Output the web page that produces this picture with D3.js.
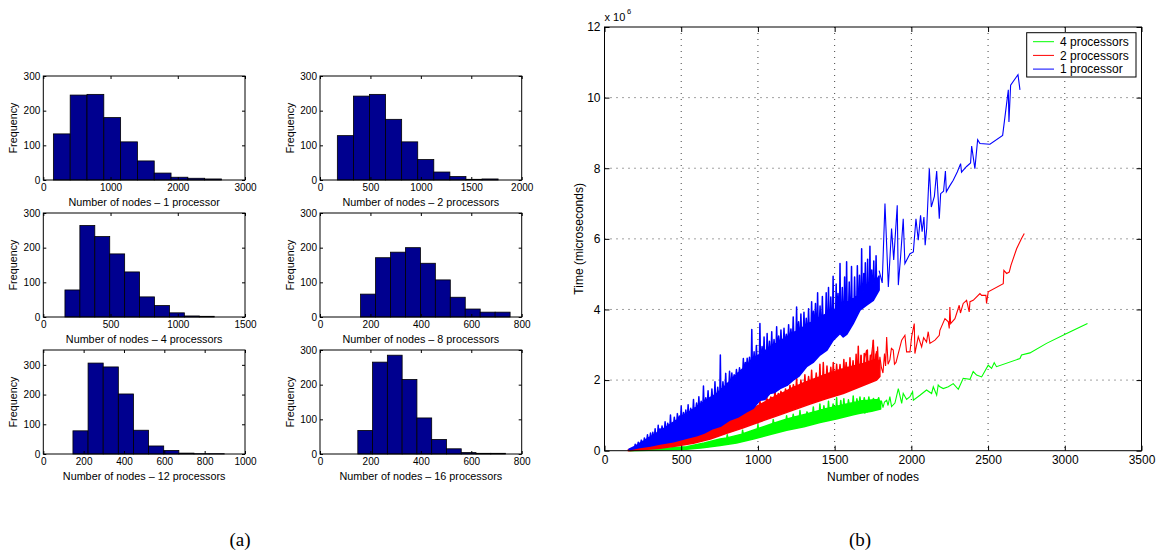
<!DOCTYPE html>
<html>
<head>
<meta charset="utf-8">
<script src="https://cdn.jsdelivr.net/npm/d3@7"></script>
<style>
body { margin: 0; background: #fff; }
svg { font-family: "Liberation Sans", Arial, sans-serif; }
</style>
</head>
<body>
<svg width="1159" height="554"></svg>
<script>
// ---- histogram data (panel a) ----
var histLabels = ["Number of nodes \u2013 1 processor", "Number of nodes \u2013 2 processors",
                  "Number of nodes \u2013 4 processors", "Number of nodes \u2013 8 processors",
                  "Number of nodes \u2013 12 processors", "Number of nodes \u2013 16 processors"];
var histMin = [150, 172, 161, 161, 147, 150];
var histMax = [2650, 1766, 1271, 754, 897, 736];
var histCounts = [
    [133, 245, 247, 180, 110, 55, 20, 8, 5, 3],
    [128, 242, 247, 175, 110, 59, 23, 10, 2, 3],
    [78, 264, 232, 182, 130, 58, 33, 12, 3, 2],
    [66, 171, 187, 200, 155, 107, 57, 23, 14, 14],
    [78, 306, 293, 202, 80, 27, 12, 3, 1, 1],
    [68, 265, 285, 215, 104, 42, 15, 4, 2, 2]
];
var histXTicks = [
    [0, 1000, 2000, 3000],
    [0, 500, 1000, 1500, 2000],
    [0, 500, 1000, 1500],
    [0, 200, 400, 600, 800],
    [0, 200, 400, 600, 800, 1000],
    [0, 200, 400, 600, 800]
];
var histYMax = [300, 300, 300, 300, 350, 300];
var freqTicks = [0, 100, 200, 300];

// ---- timing data (panel b), x = nodes, y = time in 10^6 microseconds ----
var timeXTicks = [0, 500, 1000, 1500, 2000, 2500, 3000, 3500];
var timeYTicks = [0, 2, 4, 6, 8, 10, 12];
var seriesNames = ["4 processors", "2 processors", "1 processor"];

// dense part: upper (spiky) and lower edge of each band
var greenUpper = [[165,0.02],[300,0.05],[400,0.07],[535,0.11],[650,0.22],[753,0.33],
    [797,0.36],[800,0.45],[803,0.37],[897,0.47],[900,0.58],[903,0.48],[997,0.62],[1000,0.74],[1003,0.63],
    [1097,0.77],[1100,0.88],[1103,0.78],[1184,0.89],[1187,0.99],[1190,0.90],[1227,0.94],[1230,1.03],[1233,0.95],
    [1271,0.99],[1274,1.14],[1277,1.00],[1317,1.04],[1320,1.10],[1323,1.05],[1358,1.09],[1361,1.24],[1364,1.10],
    [1401,1.14],[1404,1.32],[1407,1.15],[1427,1.17],[1430,1.27],[1433,1.18],[1457,1.20],[1460,1.40],[1463,1.21],
    [1487,1.23],[1490,1.32],[1493,1.24],[1510,1.25],[1513,1.50],[1516,1.26],[1537,1.28],[1540,1.42],[1543,1.29],
    [1557,1.30],[1560,1.47],[1563,1.31],[1587,1.33],[1590,1.44],[1593,1.34],[1618,1.36],[1621,1.55],[1624,1.37],
    [1642,1.38],[1645,1.47],[1648,1.39],[1662,1.40],[1665,1.52],[1668,1.41],[1690,1.42],[1693,1.50],[1696,1.42],
    [1720,1.43],[1723,1.52],[1726,1.43],[1750,1.44],[1753,1.48],[1756,1.44],[1784,1.45],[1787,1.50],[1790,1.44],
    [1800,1.38]];
var greenLower = [[165,0.0],[535,0.04],[640,0.08],[753,0.15],[860,0.22],[970,0.33],[1080,0.46],[1187,0.58],
    [1300,0.68],[1404,0.80],[1510,0.90],[1621,1.02],[1665,1.06],[1741,1.12],[1800,1.18]];
var greenTail = [[1665,1.06],[1672,1.40],[1680,1.10],[1687,1.43],[1697,1.05],[1705,1.35],[1715,1.12],[1730,1.29],
    [1740,1.10],[1752,1.40],[1760,1.15],[1770,1.45],[1778,1.18],[1784,1.48],[1795,1.20],[1805,1.42],
    [1815,1.22],[1825,1.38],[1839,1.43],[1848,1.28],[1860,1.53],[1871,1.25],[1893,1.35],[1915,1.76],
    [1937,1.34],[1947,1.62],[1969,1.45],[1991,1.53],[2008,1.67],[2013,1.43],[2056,1.57],[2099,1.72],
    [2132,1.62],[2143,1.81],[2165,1.57],[2175,1.86],[2186,1.81],[2208,1.76],[2241,1.81],[2273,1.90],
    [2306,1.74],[2338,2.05],[2382,2.02],[2403,2.24],[2425,2.14],[2458,2.09],[2501,2.42],[2523,2.33],
    [2540,2.49],[2555,2.38],[2708,2.61],[2718,2.71],[2773,2.77],[2881,3.04],[3012,3.32],[3148,3.60]];

var redUpper = [[155,0.03],[300,0.13],[450,0.28],[600,0.47],[750,0.74],[900,1.05],
    [1010,1.30],[1013,1.42],[1016,1.31],[1054,1.40],[1057,1.56],[1060,1.41],[1081,1.47],[1084,1.52],[1087,1.48],
    [1108,1.53],[1111,1.75],[1114,1.54],[1130,1.58],[1133,1.62],[1136,1.59],[1147,1.61],[1150,1.68],[1153,1.62],
    [1177,1.67],[1180,1.75],[1183,1.68],[1206,1.74],[1209,1.85],[1212,1.75],[1228,1.79],[1231,1.87],[1234,1.80],
    [1249,1.83],[1252,2.05],[1255,1.84],[1277,1.88],[1280,2.00],[1283,1.89],[1303,1.93],[1306,2.15],[1309,1.94],
    [1327,1.97],[1330,2.10],[1333,1.98],[1347,2.00],[1350,2.28],[1353,2.01],[1377,2.05],[1380,2.20],[1383,2.06],
    [1401,2.09],[1404,2.45],[1407,2.10],[1423,2.13],[1426,2.50],[1429,2.14],[1447,2.17],[1450,2.40],[1453,2.18],
    [1472,2.21],[1475,2.36],[1478,2.22],[1488,2.23],[1491,2.50],[1494,2.24],[1510,2.26],[1513,2.45],[1516,2.27],
    [1532,2.29],[1535,2.44],[1538,2.30],[1557,2.32],[1560,2.58],[1563,2.33],[1572,2.34],[1575,2.50],[1578,2.35],
    [1597,2.37],[1600,2.63],[1603,2.38],[1617,2.39],[1620,2.55],[1623,2.40],[1637,2.41],[1640,2.73],[1643,2.42],
    [1651,2.43],[1654,2.96],[1657,2.44],[1669,2.45],[1672,2.70],[1675,2.46],[1690,2.47],[1693,2.75],[1696,2.48],
    [1710,2.50],[1713,2.85],[1716,2.51],[1730,2.53],[1733,2.70],[1736,2.54],[1749,2.56],[1752,3.13],[1755,2.57],
    [1770,2.58],[1773,2.80],[1776,2.59],[1795,2.50]];
var redLower = [[155,0.0],[362,0.07],[470,0.13],[579,0.21],[690,0.33],[796,0.49],[900,0.64],[1013,0.82],
    [1120,0.98],[1230,1.15],[1340,1.32],[1448,1.48],[1556,1.62],[1665,1.81],[1774,2.00],[1795,2.10]];
var redTail = [[1665,2.28],[1672,2.70],[1680,2.05],[1687,2.00],[1695,2.60],[1708,2.85],[1715,2.15],[1722,2.55],
    [1730,2.20],[1740,2.70],[1752,3.13],[1760,2.25],[1768,2.75],[1774,2.38],[1780,2.95],[1787,2.30],
    [1795,2.66],[1805,2.35],[1815,2.20],[1825,2.75],[1832,2.40],[1839,3.22],[1848,2.45],[1860,2.57],
    [1870,2.90],[1882,2.85],[1890,2.45],[1900,2.50],[1937,3.13],[1958,3.27],[1969,2.80],[1991,2.80],
    [2002,3.23],[2019,3.60],[2023,2.75],[2045,3.23],[2067,2.94],[2080,3.20],[2099,3.08],[2110,3.37],
    [2121,3.04],[2154,3.13],[2182,3.27],[2186,3.41],[2219,3.74],[2241,3.65],[2247,3.46],[2251,4.07],
    [2256,3.60],[2284,3.74],[2312,4.12],[2320,3.90],[2338,4.17],[2360,4.26],[2377,3.93],[2382,4.22],
    [2403,4.26],[2447,4.45],[2458,4.40],[2486,4.40],[2490,4.17],[2501,4.50],[2599,4.73],[2603,5.11],
    [2621,5.02],[2638,5.06],[2649,5.25],[2686,5.72],[2718,6.01],[2736,6.15]];

var blueUpper = [[160,0.04],
    [197,0.12],[200,0.18],[203,0.13],[217,0.18],[220,0.24],[223,0.19],[237,0.24],[240,0.30],[243,0.25],
    [257,0.28],[260,0.36],[263,0.29],[277,0.34],[280,0.45],[283,0.35],[297,0.39],[300,0.50],[303,0.40],
    [312,0.42],[315,0.52],[318,0.43],[327,0.47],[330,0.62],[333,0.48],[347,0.52],[350,0.72],[353,0.53],
    [359,0.55],[362,0.62],[365,0.56],[372,0.59],[375,0.70],[378,0.60],[392,0.65],[395,0.82],[398,0.66],
    [409,0.69],[412,0.78],[415,0.70],[427,0.75],[430,1.01],[433,0.76],[452,0.82],[455,0.95],[458,0.83],
    [472,0.87],[475,1.05],[478,0.88],[485,0.90],[488,0.98],[491,0.91],[497,0.95],[500,1.26],[503,0.96],
    [512,0.99],[515,1.08],[518,1.00],[527,1.04],[530,1.15],[533,1.05],[542,1.07],[545,1.30],[548,1.08],
    [559,1.12],[562,1.20],[565,1.13],[577,1.18],[580,1.45],[583,1.19],[597,1.23],[600,1.35],[603,1.24],
    [612,1.28],[615,1.53],[618,1.29],[627,1.32],[630,1.40],[633,1.33],[642,1.37],[645,1.83],[648,1.38],
    [657,1.41],[660,1.50],[663,1.42],[672,1.46],[675,1.70],[678,1.47],[697,1.53],[700,1.75],[703,1.54],
    [717,1.58],[720,1.95],[723,1.59],[735,1.64],[738,1.80],[741,1.65],[752,1.70],[755,2.71],[758,1.71],
    [769,1.77],[772,1.95],[775,1.78],[787,1.85],[790,2.19],[793,1.86],[812,1.95],[815,2.25],[818,1.96],
    [827,2.01],[830,2.20],[833,2.02],[842,2.08],[845,2.15],[848,2.09],[857,2.14],[860,2.30],[863,2.15],
    [877,2.23],[880,2.35],[883,2.24],[902,2.33],[905,2.61],[908,2.34],[915,2.38],[918,2.50],[921,2.39],
    [927,2.43],[930,2.62],[933,2.44],[942,2.49],[945,2.65],[948,2.50],[957,2.56],[960,3.43],[963,2.57],
    [972,2.61],[975,2.80],[978,2.62],[987,2.66],[990,2.98],[993,2.67],[1010,2.73],[1013,3.60],[1016,2.74],
    [1024,2.77],[1027,2.95],[1030,2.78],[1037,2.81],[1040,3.22],[1043,2.82],[1057,2.86],[1060,3.32],[1063,2.87],
    [1072,2.90],[1075,3.10],[1078,2.91],[1087,2.94],[1090,3.37],[1093,2.95],[1102,2.99],[1105,3.15],[1108,3.00],
    [1119,3.04],[1122,3.51],[1125,3.05],[1132,3.08],[1135,3.25],[1138,3.09],[1147,3.12],[1150,3.42],[1153,3.13],
    [1167,3.17],[1170,3.47],[1173,3.18],[1182,3.21],[1185,3.30],[1188,3.22],[1197,3.25],[1200,3.57],[1203,3.26],
    [1212,3.29],[1215,3.45],[1218,3.30],[1227,3.33],[1230,3.79],[1233,3.34],[1249,3.39],[1252,4.07],[1255,3.40],
    [1262,3.42],[1265,3.65],[1268,3.43],[1277,3.46],[1280,3.87],[1283,3.47],[1297,3.51],[1300,3.92],[1303,3.52],
    [1312,3.55],[1315,3.75],[1318,3.56],[1327,3.59],[1330,4.02],[1333,3.60],[1347,3.64],[1350,4.22],[1353,3.65],
    [1359,3.67],[1362,3.95],[1365,3.68],[1372,3.70],[1375,4.17],[1378,3.71],[1386,3.73],[1389,4.47],[1392,3.74],
    [1402,3.77],[1405,4.10],[1408,3.78],[1417,3.81],[1420,4.37],[1423,3.82],[1442,3.87],[1445,4.47],[1448,3.88],
    [1457,3.90],[1460,4.62],[1463,3.91],[1472,3.94],[1475,4.35],[1478,3.95],[1487,3.97],[1490,4.94],[1493,3.98],
    [1507,4.02],[1510,4.72],[1513,4.03],[1519,4.05],[1522,4.45],[1525,4.06],[1532,4.08],[1535,5.30],[1538,4.09],
    [1547,4.12],[1550,4.62],[1553,4.13],[1562,4.15],[1565,4.92],[1568,4.16],[1575,4.18],[1578,5.35],[1581,4.19],
    [1592,4.22],[1595,4.78],[1598,4.23],[1607,4.26],[1610,5.22],[1613,4.27],[1627,4.32],[1630,4.92],[1633,4.33],
    [1645,4.38],[1648,5.24],[1651,4.39],[1659,4.42],[1662,4.97],[1665,4.43],[1673,4.47],[1676,5.72],[1679,4.48],
    [1687,4.52],[1690,5.02],[1693,4.53],[1697,4.56],[1700,5.32],[1703,4.57],[1712,4.62],[1715,5.42],[1718,4.63],
    [1727,4.67],[1730,5.79],[1733,4.68],[1739,4.71],[1742,5.12],[1745,4.72],[1752,4.75],[1755,5.37],[1758,4.76],
    [1767,4.80],[1770,5.52],[1773,4.81],[1790,4.95]];
var blueLower = [[160,0.03],[231,0.09],[300,0.13],[362,0.19],[450,0.25],[535,0.35],[600,0.42],[650,0.50],
    [709,0.63],[760,0.70],[818,0.87],[870,0.95],[926,1.10],[970,1.20],[1013,1.43],[1045,1.45],[1078,1.62],
    [1110,1.65],[1144,1.76],[1190,1.85],[1230,2.00],[1270,2.12],[1317,2.38],[1360,2.50],[1404,2.71],
    [1450,2.85],[1491,3.13],[1535,3.32],[1556,3.22],[1580,3.30],[1621,3.60],[1665,3.98],[1708,4.12],
    [1752,4.26],[1790,4.55]];
var blueTail = [[1790,5.10],[1810,4.75],[1828,7.00],[1850,4.64],[1871,6.29],[1885,5.40],[1908,6.95],[1915,4.69],
    [1930,5.50],[1947,6.57],[1958,5.30],[1991,5.58],[2013,5.63],[2030,6.57],[2045,5.96],[2060,6.67],
    [2070,6.20],[2082,6.62],[2090,5.82],[2100,6.30],[2117,7.99],[2130,6.90],[2150,7.20],[2165,7.92],
    [2182,6.57],[2191,7.28],[2210,7.35],[2222,7.92],[2228,7.33],[2250,7.50],[2273,7.66],[2300,7.90],
    [2321,8.13],[2327,7.89],[2360,8.05],[2386,8.15],[2393,8.63],[2414,7.99],[2432,8.81],[2447,8.70],
    [2512,8.68],[2595,8.93],[2632,10.22],[2636,9.31],[2647,10.35],[2695,10.65],[2708,10.22]];

var svg = d3.select("svg");
var intFormat = d3.format("d");

// ---------- panel (a) ----------
var drawHist = function(i, box)
{
    var ticks = histXTicks[i];
    var xScale = d3.scaleLinear()
        .domain([0, ticks[ticks.length-1]])
        .range([box.x, box.x+box.w]);
    var yScale = d3.scaleLinear()
        .domain([0, histYMax[i]])
        .range([box.y+box.h, box.y]);
    var binW = (histMax[i]-histMin[i])/histCounts[i].length;

    var g = svg.append("g").classed("hist", true);

    g.selectAll("rect")
        .data(histCounts[i])
        .enter()
        .append("rect")
        .attr("x", function(d, j) { return xScale(histMin[i]+j*binW); })
        .attr("width", function(d, j) { return xScale(histMin[i]+(j+1)*binW)-xScale(histMin[i]+j*binW); })
        .attr("y", function(d) { return yScale(d); })
        .attr("height", function(d) { return yScale(0)-yScale(d); })
        .attr("fill", "#00008f")
        .attr("stroke", "#000")
        .attr("stroke-width", 0.8);

    //axes with inward ticks on all four sides
    g.append("g")
        .attr("transform", "translate(0,"+(box.y+box.h)+")")
        .call(d3.axisBottom(xScale).tickValues(ticks).tickFormat(intFormat)
              .tickSizeInner(-3).tickSizeOuter(0).tickPadding(4));
    g.append("g")
        .attr("transform", "translate("+box.x+",0)")
        .call(d3.axisLeft(yScale).tickValues(freqTicks).tickFormat(intFormat)
              .tickSizeInner(-3).tickSizeOuter(0).tickPadding(3));
    g.append("g")
        .attr("transform", "translate(0,"+box.y+")")
        .call(d3.axisTop(xScale).tickValues(ticks).tickSizeInner(-3).tickSizeOuter(0).tickFormat(""));
    g.append("g")
        .attr("transform", "translate("+(box.x+box.w)+",0)")
        .call(d3.axisRight(yScale).tickValues(freqTicks).tickSizeInner(-3).tickSizeOuter(0).tickFormat(""));

    g.selectAll(".domain").remove();
    g.selectAll(".tick text").attr("font-size", 10).attr("font-family", "Liberation Sans, Arial, sans-serif").attr("fill", "#000");

    g.append("rect")
        .attr("x", box.x).attr("y", box.y)
        .attr("width", box.w).attr("height", box.h)
        .attr("fill", "none").attr("stroke", "#000").attr("stroke-width", 1);

    g.append("text")
        .text(histLabels[i])
        .attr("text-anchor", "middle")
        .attr("font-size", 10.8)
        .attr("x", box.x+box.w/2)
        .attr("y", box.y+box.h+26);

    g.append("g")
        .attr("transform", "translate("+(box.x-26)+","+(box.y+box.h/2)+")")
        .append("text")
        .text("Frequency")
        .attr("text-anchor", "middle")
        .attr("font-size", 10.8)
        .attr("transform", "rotate(-90)");
};

var colX = [43.3, 320];
var rowY = [76, 213, 350];
for (var i = 0; i < 6; i++)
{
    drawHist(i, {x: colX[i%2], y: rowY[Math.floor(i/2)], w: 201.7, h: 104});
}

// ---------- panel (b) ----------
var plot = {left: 604.5, right: 1141.5, top: 27, bottom: 450.7};

var xScale = d3.scaleLinear().domain([0, 3500]).range([plot.left, plot.right]);
var yScale = d3.scaleLinear().domain([0, 12]).range([plot.bottom, plot.top]);

var grid = svg.append("g").classed("grid", true);
grid.selectAll("line.v")
    .data(timeXTicks.slice(1, -1))
    .enter().append("line")
    .attr("x1", function(d) { return xScale(d); }).attr("x2", function(d) { return xScale(d); })
    .attr("y1", plot.top).attr("y2", plot.bottom);
grid.selectAll("line.h")
    .data(timeYTicks.slice(1, -1))
    .enter().append("line")
    .attr("y1", function(d) { return yScale(d); }).attr("y2", function(d) { return yScale(d); })
    .attr("x1", plot.left).attr("x2", plot.right);
grid.selectAll("line")
    .attr("stroke", "#444")
    .attr("stroke-width", 1)
    .attr("stroke-dasharray", "1,5");

var lineGen = d3.line()
    .x(function(p) { return xScale(p[0]); })
    .y(function(p) { return yScale(p[1]); });

var series = [
    {color: "#00ff00", upper: greenUpper, lower: greenLower, tail: greenTail},
    {color: "#ff0000", upper: redUpper, lower: redLower, tail: redTail},
    {color: "#0000ff", upper: blueUpper, lower: blueLower, tail: blueTail}
];

var lines = svg.append("g").classed("lines", true);
series.forEach(function(s)
{
    //the dense noisy part is drawn as a jagged band
    lines.append("path")
        .datum(s.upper.concat(s.lower.slice().reverse()))
        .attr("d", function(d) { return lineGen(d)+"Z"; })
        .attr("fill", s.color)
        .attr("stroke", s.color)
        .attr("stroke-width", 1.5)
        .attr("stroke-linejoin", "round");
    lines.append("path")
        .datum(s.tail)
        .attr("d", lineGen)
        .attr("fill", "none")
        .attr("stroke", s.color)
        .attr("stroke-width", 1.1);
});

var axes = svg.append("g").classed("axes", true);
axes.append("g")
    .attr("transform", "translate(0,"+plot.bottom+")")
    .call(d3.axisBottom(xScale).tickValues(timeXTicks).tickFormat(intFormat)
          .tickSizeInner(-5).tickSizeOuter(0).tickPadding(5));
axes.append("g")
    .attr("transform", "translate("+plot.left+",0)")
    .call(d3.axisLeft(yScale).tickValues(timeYTicks).tickFormat(intFormat)
          .tickSizeInner(-5).tickSizeOuter(0).tickPadding(4));
axes.append("g")
    .attr("transform", "translate(0,"+plot.top+")")
    .call(d3.axisTop(xScale).tickValues(timeXTicks).tickSizeInner(-5).tickSizeOuter(0).tickFormat(""));
axes.append("g")
    .attr("transform", "translate("+plot.right+",0)")
    .call(d3.axisRight(yScale).tickValues(timeYTicks).tickSizeInner(-5).tickSizeOuter(0).tickFormat(""));
axes.selectAll(".domain").remove();
axes.selectAll(".tick text").attr("font-size", 12).attr("font-family", "Liberation Sans, Arial, sans-serif").attr("fill", "#000");

axes.append("rect")
    .attr("x", plot.left).attr("y", plot.top)
    .attr("width", plot.right-plot.left).attr("height", plot.bottom-plot.top)
    .attr("fill", "none").attr("stroke", "#000").attr("stroke-width", 1);

var labels = svg.append("g").classed("labels", true);
labels.append("text")
    .text("Number of nodes")
    .attr("text-anchor", "middle")
    .attr("font-size", 12)
    .attr("x", (plot.left+plot.right)/2)
    .attr("y", plot.bottom+30);
labels.append("g")
    .attr("transform", "translate("+(plot.left-22)+","+((plot.top+plot.bottom)/2)+")")
    .append("text")
    .text("Time (microseconds)")
    .attr("text-anchor", "middle")
    .attr("font-size", 12)
    .attr("transform", "rotate(-90)");
labels.append("text")
    .text("x 10")
    .attr("font-size", 11)
    .attr("x", plot.left)
    .attr("y", 21);
labels.append("text")
    .text("6")
    .attr("font-size", 7.5)
    .attr("x", plot.left+22.5)
    .attr("y", 14);

// legend
var legend = svg.append("g").classed("legend", true);
legend.append("rect")
    .attr("x", 1026.7).attr("y", 32.7)
    .attr("width", 109.3).attr("height", 44.3)
    .attr("fill", "#fff").attr("stroke", "#000").attr("stroke-width", 1);
var items = legend.selectAll("g.item")
    .data(seriesNames)
    .enter().append("g")
    .attr("transform", function(d, k) { return "translate(1033,"+(41.7+k*13.7)+")"; });
items.append("line")
    .attr("x1", 0).attr("x2", 21)
    .attr("stroke", function(d, k) { return series[k].color; })
    .attr("stroke-width", 1);
items.append("text")
    .text(function(d) { return d; })
    .attr("x", 27)
    .attr("dy", "0.35em")
    .attr("font-size", 12);

// captions
svg.append("text").text("(a)")
    .attr("x", 240).attr("y", 546)
    .attr("text-anchor", "middle")
    .attr("font-family", "Liberation Serif, Times New Roman, serif")
    .attr("font-size", 19);
svg.append("text").text("(b)")
    .attr("x", 860).attr("y", 546)
    .attr("text-anchor", "middle")
    .attr("font-family", "Liberation Serif, Times New Roman, serif")
    .attr("font-size", 19);
</script>
</body>
</html>
